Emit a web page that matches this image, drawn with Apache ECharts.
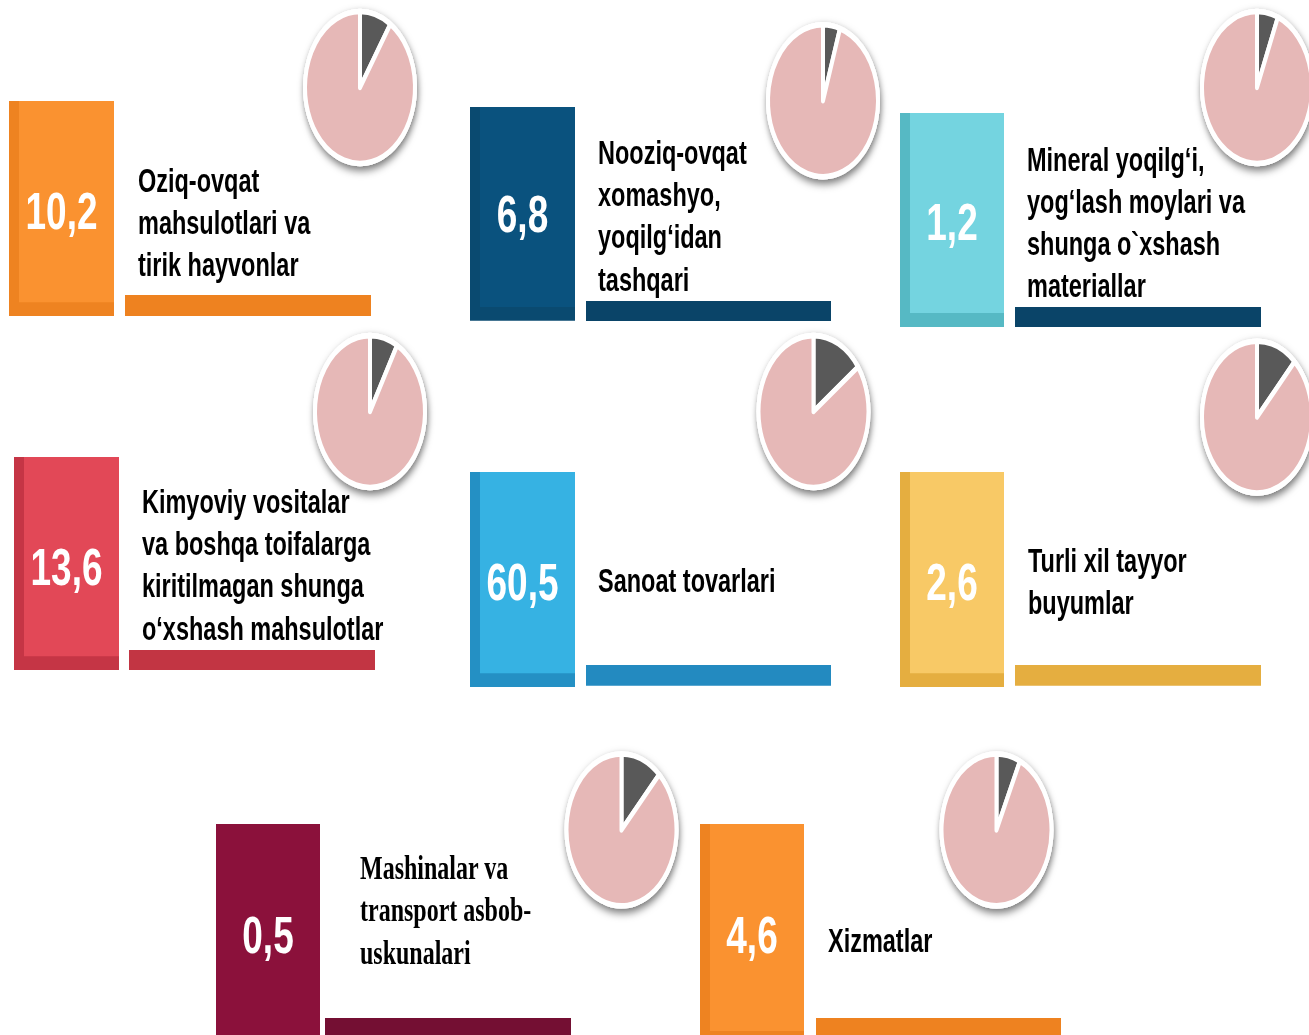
<!DOCTYPE html>
<html>
<head>
<meta charset="utf-8">
<script src="https://cdn.jsdelivr.net/npm/echarts@6/dist/echarts.min.js"></script>
<style>
html,body{margin:0;padding:0;background:#fff;}
body{width:1309px;height:1035px;overflow:visible;}
#main{width:1309px;height:750px;transform:scaleY(1.38);transform-origin:0 0;}
</style>
</head>
<body>
<div id="main"></div>
<script>
// ---- data ----
const categories = [
  "Oziq-ovqat\nmahsulotlari va\ntirik hayvonlar",
  "Nooziq-ovqat\nxomashyo,\nyoqilg‘idan\ntashqari",
  "Mineral yoqilg‘i,\nyog‘lash moylari va\nshunga o`xshash\nmateriallar",
  "Kimyoviy vositalar\nva boshqa toifalarga\nkiritilmagan shunga\no‘xshash mahsulotlar",
  "Sanoat tovarlari",
  "Turli xil tayyor\nbuyumlar",
  "Mashinalar va\ntransport asbob-\nuskunalari",
  "Xizmatlar"
];
const values = [10.2, 6.8, 1.2, 13.6, 60.5, 2.6, 0.5, 4.6];
// dark slice share of each decorative pie (% of circle)
const pieShares = [9.3, 5, 6.2, 8.2, 15, 12, 12, 7];

// ---- layout (unscaled coordinates; page is stretched vertically by 1.38) ----
const layout = [
  {bx:9,   by:73.2,  bw:105, bh:155.8, vy:152.9, barX:125, barY:213.8, barW:246, barH:15.2, lx:138, ly:161.2, px:360,  py:63.4},
  {bx:470, by:77.5,  bw:105, bh:155,   vy:155,   barX:586, barY:218.1, barW:245, barH:14.5, lx:598, ly:156.5, px:823,  py:73},
  {bx:900, by:81.9,  bw:104, bh:155,   vy:160.9, barX:1015,barY:222.5, barW:246, barH:14.5, lx:1027,ly:161.2, px:1257, py:63.4},
  {bx:14,  by:331.2, bw:105, bh:154.3, vy:410.9, barX:129, barY:471,   barW:246, barH:14.5, lx:142, ly:409.4, px:370,  py:298.2},
  {bx:470, by:342,   bw:105, bh:155.8, vy:421.7, barX:586, barY:481.9, barW:245, barH:15,   lx:598, ly:421,   px:813.5,py:298.2},
  {bx:900, by:342,   bw:104, bh:155.8, vy:421.7, barX:1015,barY:481.9, barW:246, barH:15,   lx:1028,ly:421.4, px:1257, py:302.2},
  {bx:216, by:597.1, bw:104, bh:160,   vy:677.5, barX:325, barY:737.7, barW:246, barH:20,   lx:360, ly:659.4, px:621.5,py:601.4, serif:true, noStrip:true},
  {bx:700, by:597.1, bw:104, bh:160,   vy:677.5, barX:816, barY:737.7, barW:245, barH:20,   lx:828, ly:681.2, px:996.5,py:601.4}
];
const palette = [
  {main:'#FA9230', strip:'#EE8321', bar:'#EE8220'},
  {main:'#0A527E', strip:'#0A4A70', bar:'#0A4468'},
  {main:'#74D4E0', strip:'#56B9C4', bar:'#0A4468'},
  {main:'#E24857', strip:'#C53545', bar:'#C23543'},
  {main:'#36B2E3', strip:'#2490C4', bar:'#238AC0'},
  {main:'#F8C966', strip:'#E5AE40', bar:'#E5AE40'},
  {main:'#8B113B', strip:'#8B113B', bar:'#740F33'},
  {main:'#FA9230', strip:'#EE8321', bar:'#EE8220'}
];

const chart = echarts.init(document.getElementById('main'), null, {renderer:'svg'});
const graphic = [];
const series = [];
const sansFont = "'Liberation Sans', Arial, sans-serif";
const serifFont = "'Liberation Serif', 'Times New Roman', serif";

values.forEach((v, i) => {
  const L = layout[i], C = palette[i];
  graphic.push({type:'rect', shape:{x:L.bx, y:L.by, width:L.bw, height:L.bh}, style:{fill:C.strip}, z:1});
  if (!L.noStrip) {
    graphic.push({type:'rect', shape:{x:L.bx+10, y:L.by, width:L.bw-10, height:L.bh-10}, style:{fill:C.main}, z:2});
  } else {
    graphic.push({type:'rect', shape:{x:L.bx, y:L.by, width:L.bw, height:L.bh}, style:{fill:C.main}, z:2});
  }
  graphic.push({type:'text', x:L.bx + L.bw/2, y:L.vy, z:5,
    style:{text: v.toFixed(1).replace('.', ','), fill:'#fff', font:"bold 37px " + sansFont,
      textAlign:'center', textVerticalAlign:'middle'}});
  graphic.push({type:'rect', shape:{x:L.barX, y:L.barY, width:L.barW, height:L.barH}, style:{fill:C.bar}, z:1});
  graphic.push({type:'text', x:L.lx, y:L.ly, z:5,
    style:{text: categories[i], fill:'#000',
      font: L.serif ? ("bold 24px " + serifFont) : ("bold 23.5px " + sansFont),
      lineHeight: 30.5, textAlign:'left', textVerticalAlign:'middle'}});

  series.push({type:'pie', center:[L.px, L.py], radius:57, silent:true, z:1,
    label:{show:false}, labelLine:{show:false},
    itemStyle:{color:'#fff', shadowColor:'rgba(0,0,0,0.55)', shadowBlur:6, shadowOffsetX:1, shadowOffsetY:3},
    data:[{value:1}]});
  series.push({type:'pie', center:[L.px, L.py], radius:55, startAngle:90, clockwise:true, silent:true, z:2,
    label:{show:false}, labelLine:{show:false},
    itemStyle:{borderColor:'#fff', borderWidth:4},
    data:[{value:pieShares[i], itemStyle:{color:'#595959'}}, {value:100-pieShares[i], itemStyle:{color:'#E6B8B7'}}]});
});

chart.setOption({animation:false, backgroundColor:'#fff', graphic: graphic, series: series});
</script>
</body>
</html>
